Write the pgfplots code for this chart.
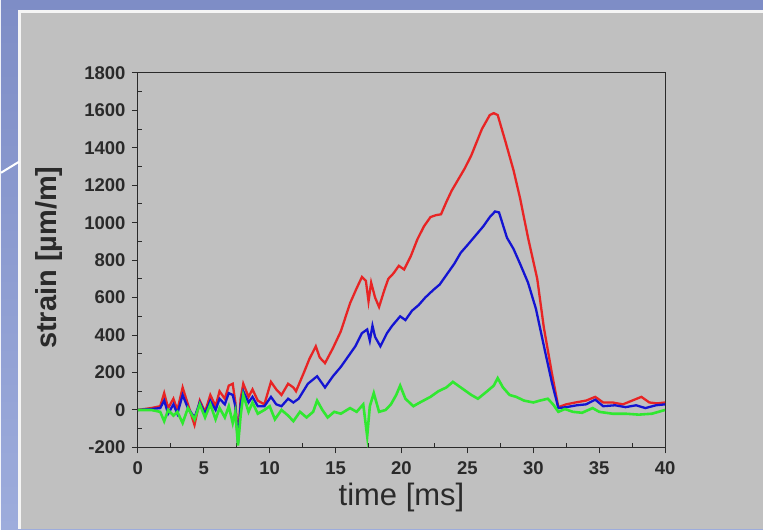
\documentclass[border=0pt]{standalone}
\usepackage{fontspec}
\setmainfont{Liberation Sans}
\usepackage{pgfplots}
\pgfplotsset{compat=1.18}
\definecolor{bgtop}{HTML}{7E8DC6}
\definecolor{bgbot}{HTML}{9DACDC}
\definecolor{panel}{HTML}{C0C0C0}
\definecolor{sred}{HTML}{E82424}
\definecolor{sblue}{HTML}{1414D2}
\definecolor{sgreen}{HTML}{30E830}
\definecolor{axgray}{HTML}{2A2A2A}

\begin{document}
\begin{tikzpicture}[x=1pt,y=1pt]
% slide background and grey panel
\shade[top color=bgtop,bottom color=bgbot] (0,0) rectangle (763,530);
\fill[white!92!gray] (17,0) rectangle (763,520);
\fill[panel] (20,0) rectangle (763,517);
\draw[white,line width=2pt] (0,357) -- (18,368);

\begin{axis}[
  at={(137pt,82pt)}, anchor=south west,
  width=528pt, height=375pt, scale only axis,
  xmin=0, xmax=40, ymin=-200, ymax=1800,
  xtick={0,5,...,40}, ytick={-200,0,...,1800},
  minor x tick num=1, minor y tick num=1,
  tick pos=left,
  tick align=outside,
  major tick length=6pt, minor tick length=-4pt,
  axis line style={axgray, line width=1.2pt},
  every tick/.style={axgray, line width=1pt},
  /pgf/number format/assume math mode=true,
  /pgf/number format/1000 sep={},
  ticklabel style={font=\fontsize{18.5}{20}\selectfont\bfseries, text=axgray},
  xticklabel style={yshift=-4pt},
  yticklabel style={xshift=-2pt},
  axis background/.style={fill=panel},
  line width=2.3pt,
  clip=true,
]
% red gauge
\addplot[sred] coordinates {
(0,0)(1,10)(1.7,20)(2.0,90)(2.3,10)(2.7,60)(3.0,0)(3.4,120)(3.8,30)(4.3,-80)
(4.7,50)(5.1,-10)(5.5,80)(5.9,20)(6.2,100)(6.6,60)(6.9,130)(7.2,140)(7.4,40)(7.6,-160)
(7.8,60)(8.0,140)(8.4,70)(8.7,110)(9.1,50)(9.6,30)(10.1,150)(10.5,110)(10.9,80)(11.4,140)
(11.8,120)(12.0,100)(12.6,200)(13.0,270)(13.5,340)(13.8,280)(14.2,250)(14.8,330)(15.4,420)(16.1,570)
(16.6,650)(17.0,710)(17.3,690)(17.5,580)(17.7,680)(18.0,600)(18.3,550)(18.7,640)(19.0,700)(19.4,730)
(19.8,770)(20.2,750)(20.7,820)(21.2,910)(21.7,980)(22.2,1030)(22.6,1040)(23.0,1045)(23.4,1110)(23.8,1170)
(24.3,1230)(24.8,1290)(25.3,1360)(25.7,1430)(26.1,1500)(26.7,1575)(27.0,1585)(27.3,1575)(27.9,1430)(28.5,1280)
(29.0,1130)(29.6,920)(30.3,700)(30.8,440)(31.4,200)(31.9,15)(32.5,30)(33.2,40)(34.0,50)(34.7,70)
(35.3,40)(36.0,40)(36.8,30)(37.5,50)(38.2,70)(38.8,40)(39.4,35)(40.0,40)
};
% blue gauge
\addplot[sblue] coordinates {
(0,0)(1,5)(1.7,10)(2.0,50)(2.3,-20)(2.7,30)(3.0,-20)(3.4,80)(3.8,10)(4.3,-40)
(4.7,40)(5.1,-20)(5.5,50)(5.9,0)(6.2,60)(6.6,30)(6.9,90)(7.2,80)(7.4,20)(7.6,-180)
(7.8,30)(8.0,100)(8.4,40)(8.7,70)(9.1,20)(9.6,20)(10.1,70)(10.5,30)(10.9,20)(11.4,60)
(11.8,40)(12.2,60)(12.9,140)(13.6,180)(14.2,120)(14.8,180)(15.4,230)(16.0,290)(16.5,340)(17.0,410)
(17.4,430)(17.6,370)(17.8,450)(18.0,390)(18.4,340)(18.9,410)(19.3,450)(19.9,500)(20.3,480)(20.8,530)
(21.3,560)(21.8,600)(22.4,640)(22.9,670)(23.5,730)(24.0,780)(24.5,840)(25.0,880)(25.6,930)(26.2,980)
(26.7,1030)(27.1,1060)(27.4,1055)(28.0,920)(28.5,860)(29.0,780)(29.6,680)(30.2,540)(30.9,310)(31.4,150)
(31.9,10)(32.5,15)(33.3,25)(34.0,30)(34.7,55)(35.3,20)(36.2,25)(37.0,15)(37.8,25)(38.5,10)
(39.3,25)(40.0,30)
};
% green gauge
\addplot[sgreen, line width=2.6pt] coordinates {
(0,0)(1,0)(1.7,-10)(2.0,-60)(2.3,0)(2.7,-30)(3.0,-10)(3.4,-70)(3.8,10)(4.3,-50)
(4.7,30)(5.1,-40)(5.5,30)(5.9,-50)(6.2,10)(6.6,-40)(6.9,20)(7.2,-70)(7.4,-10)(7.6,-190)
(7.8,-30)(8.0,80)(8.4,-10)(8.7,40)(9.1,-20)(9.6,0)(10.0,20)(10.4,-50)(10.9,0)(11.4,-30)
(11.8,-60)(12.3,-10)(12.8,-40)(13.3,-10)(13.6,50)(14.0,0)(14.4,-40)(14.9,-10)(15.4,-20)(16.1,10)
(16.6,-10)(17.1,30)(17.4,-140)(17.6,20)(17.9,90)(18.3,-10)(18.8,0)(19.2,30)(19.6,80)(19.9,130)
(20.3,60)(20.9,20)(21.4,40)(22.2,70)(22.8,100)(23.4,120)(23.9,150)(24.3,130)(24.7,110)(25.3,80)
(25.8,60)(26.5,100)(27.0,130)(27.3,170)(27.7,120)(28.2,80)(28.7,70)(29.3,50)(30.0,40)(30.5,50)
(31.1,60)(31.5,30)(31.9,-10)(32.4,5)(33.0,-10)(33.7,-15)(34.5,10)(35.0,-10)(36.0,-20)(37.0,-20)
(38.0,-25)(39.0,-20)(40.0,0)
};
\end{axis}

\node[font=\fontsize{31}{34}\selectfont, text=axgray] at (401,32) {time [ms]};
\node[font=\fontsize{29}{32}\selectfont\bfseries, text=axgray, rotate=90] at (48,272) {strain [µm/m]};
\end{tikzpicture}
\end{document}
